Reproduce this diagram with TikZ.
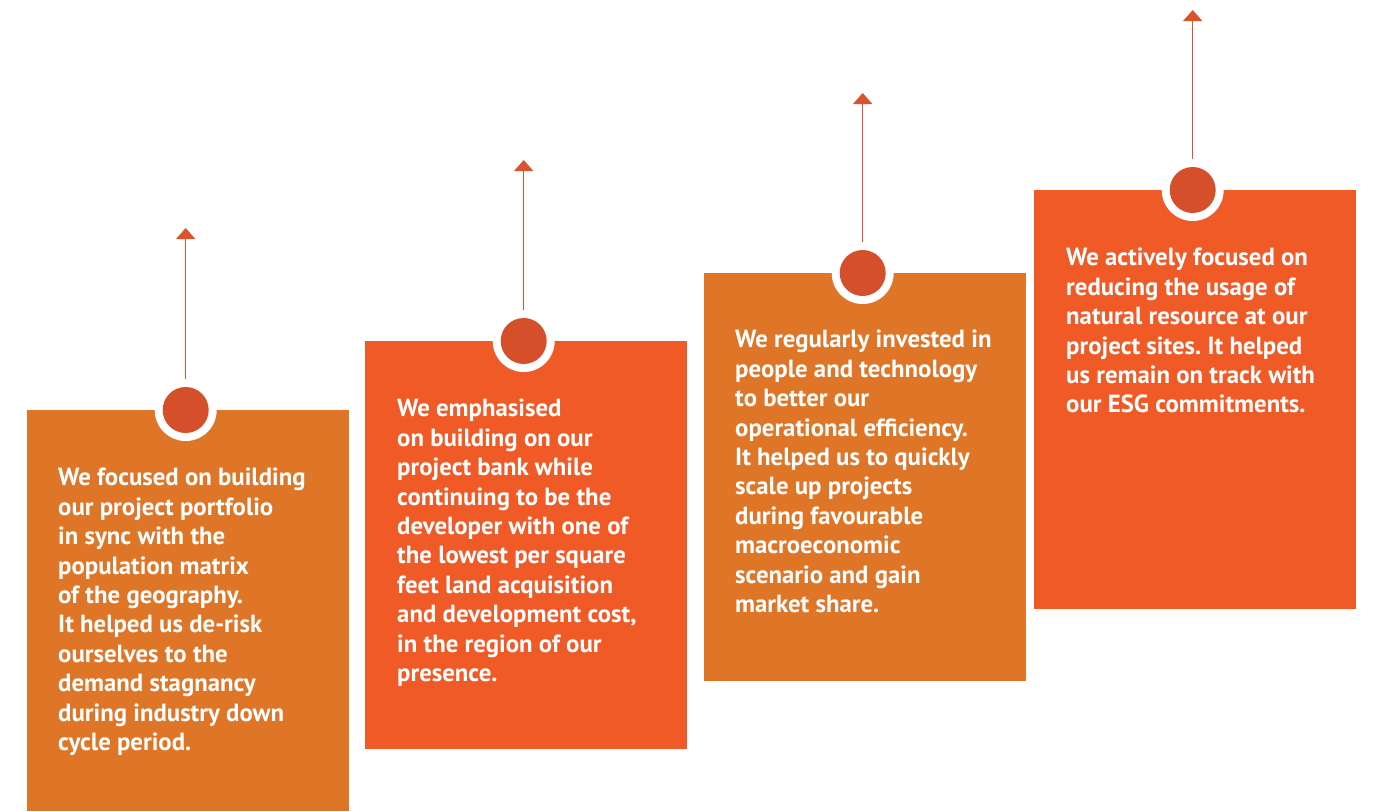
\documentclass[tikz,border=0pt]{standalone}
\usepackage{fontspec}
\setmainfont{PT Sans}
\frenchspacing
\usetikzlibrary{arrows.meta,calc}
\definecolor{dullorange}{HTML}{DF7527}
\definecolor{redorange}{HTML}{F05A27}
\definecolor{dotred}{HTML}{D44F2A}
\definecolor{arrowred}{HTML}{DA532C}
\tikzset{
  card/.style={draw=none, fill=#1, minimum width=322pt, inner sep=0pt, anchor=north west},
  ring/.style={circle, fill=white, minimum size=62pt, inner sep=0pt},
  dot/.style={circle, fill=dotred, minimum size=46pt, inner sep=0pt},
  cardtext/.style={anchor=north west, inner sep=0pt, align=left, text=white,
    font=\bfseries\fontsize{24.8}{29.4}\selectfont},
  riser/.style={draw=arrowred, line width=1.5pt, -{Triangle[width=19pt,length=11pt]}}
}
\begin{document}
\begin{tikzpicture}[x=1pt,y=-1pt]
\useasboundingbox (0,0) rectangle (1375,811);
% cards
\node[card=dullorange, minimum height=401pt] (b1) at (27,410) {};
\node[card=redorange, minimum height=408pt] (b2) at (365,341) {};
\node[card=dullorange, minimum height=408pt] (b3) at (704,273) {};
\node[card=redorange, minimum height=419pt] (b4) at (1034,190) {};
% rings and dots
\foreach \i in {1,2,3,4}{
  \node[ring] (r\i) at ($(b\i.north)+(-2.5,0)$) {};
  \node[dot] (d\i) at (r\i.center) {};
}
% arrow tips
\coordinate (t1) at (r1.north |- 0,228);
\coordinate (t2) at (r2.north |- 0,160);
\coordinate (t3) at (r3.north |- 0,93);
\coordinate (t4) at (r4.north |- 0,10);
\foreach \i in {1,2,3,4}{
  \draw[riser] (r\i.north) -- (t\i);
}
% texts
\node[cardtext] (x1) at (58,468) {We focused on building\\our project portfolio\\in sync with the\\population matrix\\of the geography.\\It helped us de-risk\\ourselves to the\\demand stagnancy\\during industry down\\cycle period.};
\node[cardtext] (x2) at (397,399) {We emphasised\\on building on our\\project bank while\\continuing to be the\\developer with one of\\the lowest per square\\feet land acquisition\\and development cost,\\in the region of our\\presence.};
\node[cardtext] (x3) at (735,330) {We regularly invested in\\people and technology\\to better our\\operational efficiency.\\It helped us to quickly\\scale up projects\\during favourable\\macroeconomic\\scenario and gain\\market share.};
\node[cardtext] (x4) at (1066,248) {We actively focused on\\reducing the usage of\\natural resource at our\\project sites. It helped\\us remain on track with\\our ESG commitments.};
\end{tikzpicture}
\end{document}
